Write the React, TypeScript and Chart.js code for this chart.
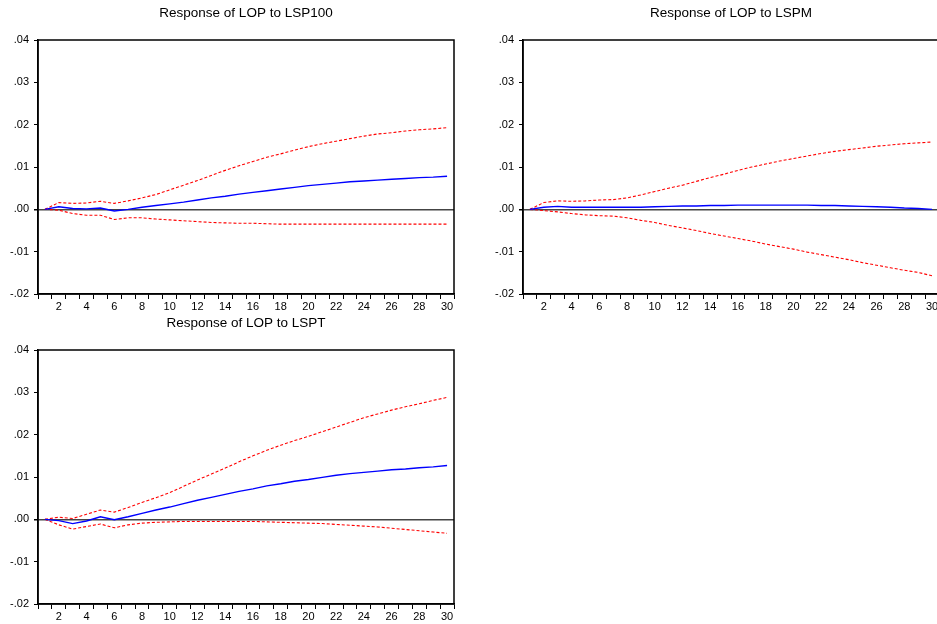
import React, { useEffect, useRef } from 'react';
import { Chart, registerables } from 'chart.js';

Chart.register(...registerables);

const FONT = '"Liberation Sans", Arial, Helvetica, sans-serif';

const periods = ['1', '2', '3', '4', '5', '6', '7', '8', '9', '10', '11', '12', '13', '14', '15',
  '16', '17', '18', '19', '20', '21', '22', '23', '24', '25', '26', '27', '28', '29', '30'];

const yMin = -0.02;
const yMax = 0.04;
const yStep = 0.01;

// Response of LOP to LSP100
const lsp100Response = [0, 0.0006, 0.0002, 0.0001, 0.0003, -0.0004, 0.0000, 0.0005, 0.0009, 0.0013,
  0.0017, 0.0022, 0.0027, 0.0031, 0.0036, 0.0040, 0.0044, 0.0048, 0.0052, 0.0056,
  0.0059, 0.0062, 0.0065, 0.0067, 0.0069, 0.0071, 0.0073, 0.0075, 0.0076, 0.0078];
const lsp100Upper = [0, 0.0016, 0.0014, 0.0015, 0.0019, 0.0014, 0.0020, 0.0027, 0.0035, 0.0046,
  0.0057, 0.0068, 0.0080, 0.0092, 0.0103, 0.0113, 0.0123, 0.0131, 0.0140, 0.0148,
  0.0155, 0.0161, 0.0167, 0.0173, 0.0178, 0.0181, 0.0185, 0.0188, 0.0190, 0.0193];
const lsp100Lower = [0, -0.0002, -0.0010, -0.0014, -0.0014, -0.0024, -0.0020, -0.0020, -0.0023, -0.0025,
  -0.0027, -0.0029, -0.0031, -0.0032, -0.0033, -0.0033, -0.0034, -0.0035, -0.0035, -0.0035,
  -0.0035, -0.0035, -0.0035, -0.0035, -0.0035, -0.0035, -0.0035, -0.0035, -0.0035, -0.0035];

// Response of LOP to LSPM
const lspmResponse = [0, 0.0005, 0.0007, 0.0005, 0.0005, 0.0005, 0.0005, 0.0005, 0.0005, 0.0006,
  0.0007, 0.0008, 0.0008, 0.0009, 0.0009, 0.0010, 0.0010, 0.0010, 0.0010, 0.0010,
  0.0010, 0.0009, 0.0009, 0.0008, 0.0007, 0.0006, 0.0005, 0.0003, 0.0002, 0.0000];
const lspmUpper = [0, 0.0016, 0.0020, 0.0019, 0.0020, 0.0022, 0.0023, 0.0027, 0.0034, 0.0042,
  0.0050, 0.0057, 0.0066, 0.0075, 0.0083, 0.0092, 0.0100, 0.0107, 0.0114, 0.0120,
  0.0126, 0.0132, 0.0137, 0.0141, 0.0145, 0.0149, 0.0152, 0.0155, 0.0157, 0.0159];
const lspmLower = [0, -0.0003, -0.0006, -0.0010, -0.0013, -0.0015, -0.0016, -0.0020, -0.0026, -0.0031,
  -0.0038, -0.0044, -0.0050, -0.0057, -0.0063, -0.0069, -0.0075, -0.0082, -0.0088, -0.0094,
  -0.0101, -0.0107, -0.0113, -0.0119, -0.0126, -0.0132, -0.0138, -0.0144, -0.0149, -0.0157];

// Response of LOP to LSPT
const lsptResponse = [0, -0.0003, -0.0010, -0.0004, 0.0006, -0.0001, 0.0006, 0.0014, 0.0022, 0.0029,
  0.0037, 0.0045, 0.0052, 0.0059, 0.0066, 0.0072, 0.0079, 0.0084, 0.0090, 0.0094,
  0.0099, 0.0104, 0.0108, 0.0111, 0.0114, 0.0117, 0.0119, 0.0122, 0.0124, 0.0127];
const lsptUpper = [0, 0.0005, 0.0002, 0.0012, 0.0022, 0.0017, 0.0028, 0.0040, 0.0051, 0.0063,
  0.0078, 0.0093, 0.0107, 0.0121, 0.0136, 0.0150, 0.0163, 0.0175, 0.0186, 0.0196,
  0.0207, 0.0218, 0.0229, 0.0240, 0.0249, 0.0258, 0.0266, 0.0273, 0.0281, 0.0288];
const lsptLower = [0, -0.0013, -0.0023, -0.0017, -0.0011, -0.0020, -0.0013, -0.0009, -0.0007, -0.0006,
  -0.0005, -0.0005, -0.0005, -0.0005, -0.0005, -0.0005, -0.0006, -0.0007, -0.0008, -0.0009,
  -0.0010, -0.0012, -0.0014, -0.0016, -0.0018, -0.0021, -0.0024, -0.0027, -0.0030, -0.0033];

const formatTick = (v: number) => {
  const s = Math.abs(v).toFixed(2).replace(/^0/, '');
  return v < -1e-9 ? '-' + s : s;
};

const framePlugin = {
  id: 'frame',
  afterDraw(chart: any) {
    const { ctx, chartArea } = chart;
    ctx.save();
    ctx.strokeStyle = '#000';
    ctx.lineWidth = 1.5;
    ctx.strokeRect(chartArea.left, chartArea.top, chartArea.right - chartArea.left, chartArea.bottom - chartArea.top);
    ctx.restore();
  },
};

type PanelProps = {
  title: string;
  response: number[];
  upper: number[];
  lower: number[];
  left: number;
  top: number;
};

function ImpulsePanel({ title, response, upper, lower, left, top }: PanelProps) {
  const ref = useRef<HTMLCanvasElement>(null);
  useEffect(() => {
    const isZero = (ctx: any) => ctx && ctx.tick && Math.abs(ctx.tick.value) < 1e-9;
    const chart = new Chart(ref.current as HTMLCanvasElement, {
      type: 'line',
      data: {
        labels: periods,
        datasets: [
          { data: response, borderColor: '#0000ff', borderWidth: 1.4, pointRadius: 0, tension: 0, fill: false },
          { data: upper, borderColor: '#ff0000', borderWidth: 1.1, borderDash: [3, 2], pointRadius: 0, tension: 0, fill: false },
          { data: lower, borderColor: '#ff0000', borderWidth: 1.1, borderDash: [3, 2], pointRadius: 0, tension: 0, fill: false },
        ],
      },
      options: {
        responsive: false,
        maintainAspectRatio: false,
        animation: false,
        events: [],
        layout: { padding: { left: 0, right: 16, top: 0, bottom: 0 } },
        plugins: {
          legend: { display: false },
          tooltip: { enabled: false },
          title: {
            display: true,
            text: title,
            fullSize: false,
            color: '#000',
            font: { family: FONT, size: 13.5, weight: 'normal', lineHeight: 1.2 },
            padding: { top: 5, bottom: 18.8 },
          },
        },
        scales: {
          x: {
            type: 'category',
            offset: true,
            grid: { offset: true, drawOnChartArea: false, drawTicks: true, tickLength: 5, color: '#000', lineWidth: 1 },
            border: { display: true, color: '#000', width: 1.5 },
            ticks: {
              autoSkip: false,
              maxRotation: 0,
              minRotation: 0,
              padding: 1,
              color: '#000',
              font: { family: FONT, size: 11 },
              callback: (_v: any, i: number) => ((i + 1) % 2 === 0 ? periods[i] : ''),
            },
            afterFit: (s: any) => { s.height = 20; },
          },
          y: {
            min: yMin,
            max: yMax,
            ticks: {
              stepSize: yStep,
              padding: 5,
              color: '#000',
              font: { family: FONT, size: 11 },
              callback: (v: any) => formatTick(Number(v)),
            },
            grid: {
              drawTicks: true,
              tickLength: 4,
              color: (ctx: any) => (isZero(ctx) ? '#444' : 'rgba(0,0,0,0)'),
              tickColor: '#000',
              lineWidth: (ctx: any) => (isZero(ctx) ? 1.5 : 1),
            },
            border: { display: true, color: '#000', width: 1.5 },
            afterFit: (s: any) => { s.width = 38; },
          },
        },
      } as any,
      plugins: [framePlugin],
    });
    return () => chart.destroy();
  }, [title, response, upper, lower]);
  return (
    <canvas
      ref={ref}
      width={470}
      height={314}
      style={{ position: 'absolute', left, top, width: 470, height: 314 }}
    />
  );
}

export default function App() {
  return (
    <div style={{ position: 'fixed', left: 0, top: 0, width: 937, height: 624, overflow: 'hidden', background: '#fff' }}>
      <ImpulsePanel title="Response of LOP to LSP100" response={lsp100Response} upper={lsp100Upper} lower={lsp100Lower} left={0} top={0} />
      <ImpulsePanel title="Response of LOP to LSPM" response={lspmResponse} upper={lspmUpper} lower={lspmLower} left={485} top={0} />
      <ImpulsePanel title="Response of LOP to LSPT" response={lsptResponse} upper={lsptUpper} lower={lsptLower} left={0} top={310} />
    </div>
  );
}
